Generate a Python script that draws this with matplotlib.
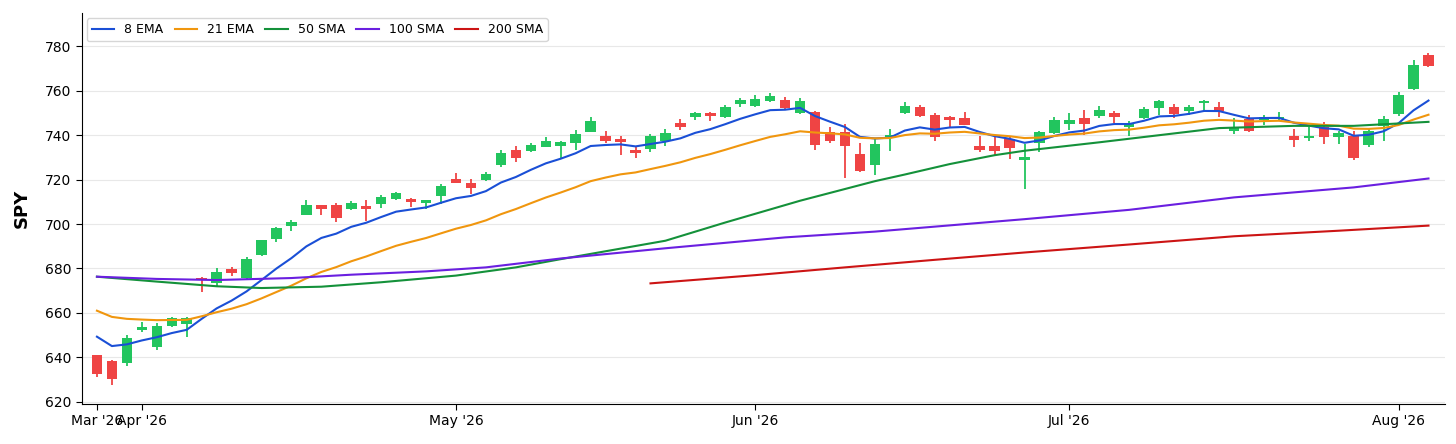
import numpy as np
import pandas as pd
import matplotlib
matplotlib.use("Agg")
import matplotlib.pyplot as plt

# ---------------- data ----------------
holidays = ["2026-04-03", "2026-05-25", "2026-06-19", "2026-07-03"]
dates = pd.bdate_range("2026-03-27", "2026-08-05", freq="C", holidays=holidays)

opens = [641.0, 638.4, 637.6, 652.3, 644.8, 654.1, 655.0, 675.8, 673.3, 679.7,
         675.8, 686.0, 693.3, 699.1, 704.3, 708.5, 708.5, 707.0, 708.0, 708.9,
         711.3, 711.5, 709.5, 712.7, 720.5, 718.5, 720.0, 726.5, 733.2, 733.0,
         734.8, 735.3, 736.3, 741.6, 739.8, 738.3, 733.5, 733.8, 737.2, 745.5,
         748.0, 750.0, 748.3, 754.0, 753.3, 755.2, 756.0, 750.0, 750.6, 741.3,
         741.3, 731.5, 726.7, 739.3, 750.0, 752.8, 749.2, 748.3, 747.6, 735.3,
         735.3, 738.3, 728.8, 736.3, 740.8, 745.0, 747.6, 748.8, 750.0, 743.5,
         747.6, 752.2, 752.8, 751.0, 754.3, 752.8, 742.0, 747.3, 746.8, 747.3,
         739.8, 738.7, 743.5, 739.0, 739.8, 735.7, 744.3, 749.5, 760.7, 776.2]
highs = [641.2, 638.8, 649.9, 656.0, 655.3, 658.0, 658.0, 676.3, 680.0, 680.7,
         685.0, 693.0, 698.8, 701.8, 710.7, 708.8, 709.5, 710.3, 710.7, 713.0,
         714.5, 711.8, 711.0, 717.9, 723.2, 720.5, 723.5, 733.2, 735.0, 736.3,
         739.3, 737.2, 742.3, 748.0, 742.0, 739.8, 734.8, 740.5, 743.0, 747.3,
         750.3, 750.3, 753.5, 756.6, 758.2, 758.8, 757.3, 756.7, 751.0, 743.5,
         745.0, 736.3, 738.3, 742.8, 754.8, 753.7, 750.0, 748.5, 750.3, 739.8,
         739.3, 739.8, 736.0, 741.7, 748.3, 750.0, 751.5, 753.0, 750.7, 746.2,
         752.5, 755.8, 754.0, 753.7, 755.8, 754.8, 747.7, 749.2, 749.2, 750.6,
         742.8, 743.8, 745.8, 742.0, 742.0, 743.2, 748.8, 759.3, 773.8, 777.2]
lows = [631.3, 627.6, 636.1, 651.5, 643.3, 653.8, 649.3, 669.5, 672.0, 676.6,
        675.4, 685.7, 692.0, 696.7, 704.0, 704.3, 701.0, 706.2, 701.4, 707.4,
        710.7, 707.7, 707.0, 708.9, 718.5, 713.7, 719.4, 725.7, 728.0, 732.3,
        734.5, 729.7, 733.3, 741.3, 736.3, 731.2, 729.7, 732.3, 735.3, 742.3,
        746.8, 746.2, 747.6, 752.8, 752.7, 754.8, 751.8, 749.5, 733.3, 736.3,
        720.6, 723.3, 722.2, 733.0, 749.5, 748.3, 737.2, 743.8, 744.4, 732.3,
        730.8, 729.3, 716.0, 732.3, 740.5, 742.3, 740.2, 747.6, 745.5, 739.8,
        747.3, 749.2, 747.7, 749.2, 750.3, 748.0, 740.5, 741.3, 744.7, 746.5,
        734.8, 737.2, 736.0, 736.0, 729.0, 734.5, 737.5, 748.8, 760.3, 770.5]
closes = [632.4, 630.3, 648.5, 653.8, 654.1, 657.5, 657.5, 674.6, 678.5, 677.8,
          684.2, 692.7, 698.2, 701.0, 708.5, 707.0, 702.5, 709.5, 707.0, 712.2,
          714.0, 710.0, 710.7, 717.0, 718.7, 716.3, 722.4, 732.2, 729.9, 735.7,
          737.5, 736.8, 740.5, 746.5, 737.2, 736.8, 731.8, 739.8, 740.8, 743.8,
          749.8, 748.5, 752.8, 755.8, 756.5, 757.8, 752.2, 755.2, 735.7, 737.2,
          735.3, 723.7, 736.0, 740.2, 753.3, 748.5, 739.0, 746.8, 744.6, 733.5,
          733.0, 734.2, 730.3, 741.3, 746.8, 746.8, 745.0, 751.5, 748.0, 745.0,
          751.8, 755.2, 749.5, 752.8, 755.5, 750.7, 743.2, 742.0, 748.3, 748.0,
          738.0, 739.8, 739.0, 740.8, 729.7, 741.7, 747.3, 758.0, 771.5, 771.0]

# EMA values on the first day (carried over from earlier history)
ema8_first = 649.3
ema21_first = 661.0

# SMAs at these trading-day positions
sma50_idx = [0, 4, 8, 11, 15, 19, 24, 28, 31, 38, 42, 47, 52, 54, 57, 60, 62, 67, 71, 75, 80, 84, 89]
sma50 = [676.3, 674.1, 672.0, 671.2, 671.8, 673.8, 676.8, 680.5, 684.2, 692.5, 700.7, 710.5,
         719.3, 722.3, 727.0, 731.0, 733.0, 736.8, 740.0, 743.2, 744.2, 744.2, 746.0]
sma100_idx = [0, 4, 8, 13, 17, 22, 26, 31, 38, 46, 52, 62, 69, 76, 84, 89]
sma100 = [676.3, 675.3, 674.8, 675.7, 677.2, 678.7, 680.5, 684.5, 689.1, 694.0, 696.6,
          702.2, 706.4, 712.0, 716.5, 720.5]
sma200_idx = [37, 44, 50, 56, 62, 69, 76, 83, 89]
sma200 = [673.3, 677.0, 680.5, 683.9, 687.2, 690.8, 694.5, 697.0, 699.3]

ticker = "SPY"

# ---------------- derived ----------------
o = np.array(opens); h = np.array(highs); l = np.array(lows); c = np.array(closes)
n = len(c)
x = np.arange(n)


def ema(values, first, span):
    a = 2.0 / (span + 1)
    out = [first]
    for v in values[1:]:
        out.append(out[-1] + a * (v - out[-1]))
    return np.array(out)


ema8 = ema(c, ema8_first, 8)
ema21 = ema(c, ema21_first, 21)

# ---------------- plot ----------------
fig = plt.figure(figsize=(14.56, 4.44), dpi=100)
ax = fig.add_axes([0.0563, 0.0901, 0.9361, 0.8806])

up_col = "#22c55e"
dn_col = "#ef4444"
up = c >= o
cols = np.where(up, up_col, dn_col)

ax.vlines(x, l, h, colors=cols, linewidth=1.3, zorder=2)
body_bottom = np.minimum(o, c)
body_h = np.maximum(np.abs(c - o), 0.5)
ax.bar(x, body_h, bottom=body_bottom, width=0.7, color=cols, linewidth=0, zorder=2)

lw = 1.5
ax.plot(x, ema8, color="#1a4fd6", lw=lw, label="8 EMA", zorder=3)
ax.plot(x, ema21, color="#f0960e", lw=lw, label="21 EMA", zorder=3)
ax.plot(sma50_idx, sma50, color="#14913a", lw=lw, label="50 SMA", zorder=3)
ax.plot(sma100_idx, sma100, color="#6a1fe0", lw=lw, label="100 SMA", zorder=3)
ax.plot(sma200_idx, sma200, color="#cc1414", lw=lw, label="200 SMA", zorder=3)

ax.set_xlim(-1, n + 0.1)
ax.set_ylim(619, 795)
ax.set_yticks(np.arange(620, 781, 20))

months = pd.Series(dates.month)
tick_pos = [0] + [i for i in range(1, n) if months[i] != months[i - 1]]
tick_lab = [dates[i].strftime("%b '%y") for i in tick_pos]
ax.set_xticks(tick_pos)
ax.set_xticklabels(tick_lab)

ax.tick_params(axis="both", labelsize=10, length=4)
ax.set_ylabel(ticker, fontsize=13, fontweight="bold", labelpad=10)
ax.grid(axis="y", color="#e8e8e8", linewidth=0.8, zorder=0)
ax.set_axisbelow(True)
for s in ["top", "right"]:
    ax.spines[s].set_visible(False)

ax.legend(loc="upper left", ncol=5, fontsize=9, frameon=True, borderaxespad=0.4,
          handlelength=1.8, handletextpad=0.8, columnspacing=0.9)

fig.savefig("out.png", dpi=100)
